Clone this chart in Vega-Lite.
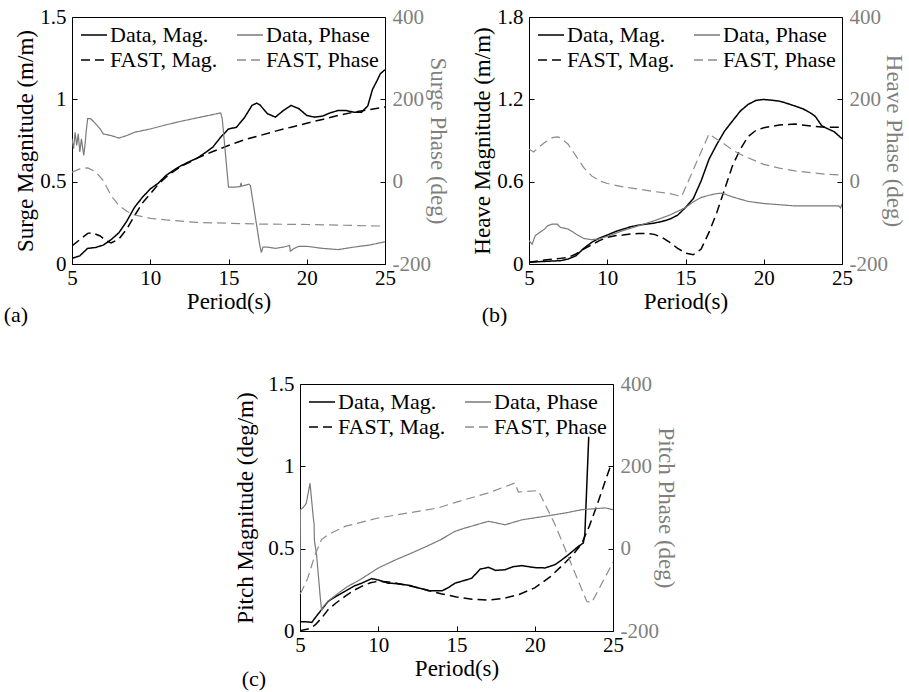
{
  "$schema": "https://vega.github.io/schema/vega-lite/v6.json",
  "background": "white",
  "padding": {"left": 3, "top": 5, "right": 0, "bottom": 0},
  "config": {
    "font": "Liberation Serif, Times New Roman, serif",
    "view": {"stroke": "#000", "strokeWidth": 1},
    "axis": {"grid": false, "domain": false, "tickSize": -5, "tickColor": "#000", "labelFlush": false, "labelPadding": 11, "labelFontSize": 21, "titleFontSize": 23, "titleFontWeight": "normal", "labelColor": "#000", "titleColor": "#000", "labelFont": "Liberation Serif, Times New Roman, serif", "titleFont": "Liberation Serif, Times New Roman, serif", "titlePadding": 2},
    "axisX": {"labelPadding": 8, "titlePadding": 2},
    "legend": {"labelFontSize": 22, "labelFont": "Liberation Serif, Times New Roman, serif", "labelColor": "#000", "symbolType": "stroke", "symbolSize": 676, "symbolStrokeWidth": 1.5, "labelOffset": 2, "columns": 2, "direction": "horizontal", "columnPadding": 16, "rowPadding": -2, "orient": "none", "legendX": 8, "legendY": 4, "padding": 0, "labelLimit": 300},
    "title": {"font": "Liberation Serif, Times New Roman, serif", "fontSize": 22, "fontWeight": "normal", "color": "#000"}
  },
  "datasets": {
    "a": [
      {"s": "Data, Mag.", "t": 5, "v": 0.034}, {"s": "Data, Mag.", "t": 5.5, "v": 0.05}, {"s": "Data, Mag.", "t": 6, "v": 0.095}, {"s": "Data, Mag.", "t": 6.5, "v": 0.1}, {"s": "Data, Mag.", "t": 7, "v": 0.115}, {"s": "Data, Mag.", "t": 7.5, "v": 0.148}, {"s": "Data, Mag.", "t": 8, "v": 0.19}, {"s": "Data, Mag.", "t": 8.5, "v": 0.26}, {"s": "Data, Mag.", "t": 9, "v": 0.345}, {"s": "Data, Mag.", "t": 9.5, "v": 0.405}, {"s": "Data, Mag.", "t": 10, "v": 0.456}, {"s": "Data, Mag.", "t": 10.5, "v": 0.49}, {"s": "Data, Mag.", "t": 11, "v": 0.537}, {"s": "Data, Mag.", "t": 11.5, "v": 0.57}, {"s": "Data, Mag.", "t": 12, "v": 0.598}, {"s": "Data, Mag.", "t": 12.5, "v": 0.622}, {"s": "Data, Mag.", "t": 13, "v": 0.643}, {"s": "Data, Mag.", "t": 13.5, "v": 0.675}, {"s": "Data, Mag.", "t": 14, "v": 0.71}, {"s": "Data, Mag.", "t": 14.5, "v": 0.77}, {"s": "Data, Mag.", "t": 15, "v": 0.82}, {"s": "Data, Mag.", "t": 15.5, "v": 0.83}, {"s": "Data, Mag.", "t": 16, "v": 0.886}, {"s": "Data, Mag.", "t": 16.5, "v": 0.963}, {"s": "Data, Mag.", "t": 16.8, "v": 0.977}, {"s": "Data, Mag.", "t": 17, "v": 0.967}, {"s": "Data, Mag.", "t": 17.5, "v": 0.912}, {"s": "Data, Mag.", "t": 18, "v": 0.892}, {"s": "Data, Mag.", "t": 18.5, "v": 0.932}, {"s": "Data, Mag.", "t": 19, "v": 0.963}, {"s": "Data, Mag.", "t": 19.5, "v": 0.943}, {"s": "Data, Mag.", "t": 20, "v": 0.902}, {"s": "Data, Mag.", "t": 20.5, "v": 0.892}, {"s": "Data, Mag.", "t": 21, "v": 0.898}, {"s": "Data, Mag.", "t": 21.5, "v": 0.918}, {"s": "Data, Mag.", "t": 22, "v": 0.932}, {"s": "Data, Mag.", "t": 22.5, "v": 0.932}, {"s": "Data, Mag.", "t": 23, "v": 0.922}, {"s": "Data, Mag.", "t": 23.5, "v": 0.922}, {"s": "Data, Mag.", "t": 23.9, "v": 0.96}, {"s": "Data, Mag.", "t": 24.2, "v": 1.06}, {"s": "Data, Mag.", "t": 24.5, "v": 1.115}, {"s": "Data, Mag.", "t": 24.7, "v": 1.155}, {"s": "Data, Mag.", "t": 25, "v": 1.18},
      {"s": "FAST, Mag.", "t": 5, "v": 0.11}, {"s": "FAST, Mag.", "t": 5.5, "v": 0.148}, {"s": "FAST, Mag.", "t": 6, "v": 0.186}, {"s": "FAST, Mag.", "t": 6.3, "v": 0.19}, {"s": "FAST, Mag.", "t": 6.8, "v": 0.17}, {"s": "FAST, Mag.", "t": 7.2, "v": 0.14}, {"s": "FAST, Mag.", "t": 7.5, "v": 0.128}, {"s": "FAST, Mag.", "t": 8, "v": 0.152}, {"s": "FAST, Mag.", "t": 8.5, "v": 0.213}, {"s": "FAST, Mag.", "t": 9, "v": 0.294}, {"s": "FAST, Mag.", "t": 9.5, "v": 0.371}, {"s": "FAST, Mag.", "t": 10, "v": 0.426}, {"s": "FAST, Mag.", "t": 10.5, "v": 0.482}, {"s": "FAST, Mag.", "t": 11, "v": 0.527}, {"s": "FAST, Mag.", "t": 11.5, "v": 0.563}, {"s": "FAST, Mag.", "t": 12, "v": 0.594}, {"s": "FAST, Mag.", "t": 12.5, "v": 0.618}, {"s": "FAST, Mag.", "t": 13, "v": 0.643}, {"s": "FAST, Mag.", "t": 14, "v": 0.683}, {"s": "FAST, Mag.", "t": 15, "v": 0.72}, {"s": "FAST, Mag.", "t": 16, "v": 0.754}, {"s": "FAST, Mag.", "t": 17, "v": 0.78}, {"s": "FAST, Mag.", "t": 18, "v": 0.807}, {"s": "FAST, Mag.", "t": 19, "v": 0.831}, {"s": "FAST, Mag.", "t": 20, "v": 0.855}, {"s": "FAST, Mag.", "t": 21, "v": 0.878}, {"s": "FAST, Mag.", "t": 22, "v": 0.902}, {"s": "FAST, Mag.", "t": 23, "v": 0.922}, {"s": "FAST, Mag.", "t": 24, "v": 0.937}, {"s": "FAST, Mag.", "t": 25, "v": 0.953},
      {"s": "Data, Phase", "t": 5, "v": 104}, {"s": "Data, Phase", "t": 5.1, "v": 80}, {"s": "Data, Phase", "t": 5.2, "v": 120}, {"s": "Data, Phase", "t": 5.3, "v": 88}, {"s": "Data, Phase", "t": 5.4, "v": 116}, {"s": "Data, Phase", "t": 5.5, "v": 72}, {"s": "Data, Phase", "t": 5.6, "v": 104}, {"s": "Data, Phase", "t": 5.75, "v": 64}, {"s": "Data, Phase", "t": 5.85, "v": 96}, {"s": "Data, Phase", "t": 5.9, "v": 120}, {"s": "Data, Phase", "t": 6, "v": 153}, {"s": "Data, Phase", "t": 6.2, "v": 153}, {"s": "Data, Phase", "t": 6.5, "v": 141}, {"s": "Data, Phase", "t": 6.8, "v": 128}, {"s": "Data, Phase", "t": 7, "v": 116}, {"s": "Data, Phase", "t": 7.5, "v": 112}, {"s": "Data, Phase", "t": 8, "v": 106}, {"s": "Data, Phase", "t": 8.5, "v": 112}, {"s": "Data, Phase", "t": 9, "v": 120}, {"s": "Data, Phase", "t": 10, "v": 128}, {"s": "Data, Phase", "t": 11, "v": 138}, {"s": "Data, Phase", "t": 12, "v": 147}, {"s": "Data, Phase", "t": 13, "v": 155}, {"s": "Data, Phase", "t": 14, "v": 163}, {"s": "Data, Phase", "t": 14.5, "v": 167}, {"s": "Data, Phase", "t": 14.6, "v": 153}, {"s": "Data, Phase", "t": 15, "v": -13.5}, {"s": "Data, Phase", "t": 15.3, "v": -13.5}, {"s": "Data, Phase", "t": 15.75, "v": -12}, {"s": "Data, Phase", "t": 15.8, "v": -3}, {"s": "Data, Phase", "t": 15.85, "v": -11}, {"s": "Data, Phase", "t": 16.3, "v": -6}, {"s": "Data, Phase", "t": 16.4, "v": -9.5}, {"s": "Data, Phase", "t": 17, "v": -155}, {"s": "Data, Phase", "t": 17.1, "v": -172}, {"s": "Data, Phase", "t": 17.2, "v": -159}, {"s": "Data, Phase", "t": 17.5, "v": -159}, {"s": "Data, Phase", "t": 18, "v": -162}, {"s": "Data, Phase", "t": 18.5, "v": -159}, {"s": "Data, Phase", "t": 18.9, "v": -155}, {"s": "Data, Phase", "t": 18.95, "v": -169}, {"s": "Data, Phase", "t": 19.2, "v": -162}, {"s": "Data, Phase", "t": 19.5, "v": -157}, {"s": "Data, Phase", "t": 20, "v": -157}, {"s": "Data, Phase", "t": 21, "v": -162}, {"s": "Data, Phase", "t": 22, "v": -165}, {"s": "Data, Phase", "t": 23, "v": -159}, {"s": "Data, Phase", "t": 24, "v": -154}, {"s": "Data, Phase", "t": 25, "v": -146},
      {"s": "FAST, Phase", "t": 5, "v": 23}, {"s": "FAST, Phase", "t": 5.5, "v": 31}, {"s": "FAST, Phase", "t": 6, "v": 33.5}, {"s": "FAST, Phase", "t": 6.5, "v": 24.6}, {"s": "FAST, Phase", "t": 7, "v": 2.7}, {"s": "FAST, Phase", "t": 7.5, "v": -34}, {"s": "FAST, Phase", "t": 8, "v": -58}, {"s": "FAST, Phase", "t": 8.5, "v": -72}, {"s": "FAST, Phase", "t": 9, "v": -81}, {"s": "FAST, Phase", "t": 10, "v": -89}, {"s": "FAST, Phase", "t": 11, "v": -93}, {"s": "FAST, Phase", "t": 12, "v": -96}, {"s": "FAST, Phase", "t": 13, "v": -99}, {"s": "FAST, Phase", "t": 15, "v": -101}, {"s": "FAST, Phase", "t": 17, "v": -103}, {"s": "FAST, Phase", "t": 20, "v": -104}, {"s": "FAST, Phase", "t": 25, "v": -108}
    ],
    "b": [
      {"s": "Data, Mag.", "t": 5, "v": 0.012}, {"s": "Data, Mag.", "t": 6, "v": 0.019}, {"s": "Data, Mag.", "t": 7, "v": 0.024}, {"s": "Data, Mag.", "t": 7.5, "v": 0.036}, {"s": "Data, Mag.", "t": 8, "v": 0.06}, {"s": "Data, Mag.", "t": 8.5, "v": 0.114}, {"s": "Data, Mag.", "t": 9, "v": 0.157}, {"s": "Data, Mag.", "t": 9.5, "v": 0.189}, {"s": "Data, Mag.", "t": 10, "v": 0.211}, {"s": "Data, Mag.", "t": 10.5, "v": 0.235}, {"s": "Data, Mag.", "t": 11, "v": 0.254}, {"s": "Data, Mag.", "t": 11.5, "v": 0.271}, {"s": "Data, Mag.", "t": 12, "v": 0.283}, {"s": "Data, Mag.", "t": 12.5, "v": 0.291}, {"s": "Data, Mag.", "t": 13, "v": 0.298}, {"s": "Data, Mag.", "t": 13.5, "v": 0.31}, {"s": "Data, Mag.", "t": 14, "v": 0.327}, {"s": "Data, Mag.", "t": 14.5, "v": 0.356}, {"s": "Data, Mag.", "t": 15, "v": 0.412}, {"s": "Data, Mag.", "t": 15.5, "v": 0.477}, {"s": "Data, Mag.", "t": 16, "v": 0.606}, {"s": "Data, Mag.", "t": 16.5, "v": 0.763}, {"s": "Data, Mag.", "t": 17, "v": 0.872}, {"s": "Data, Mag.", "t": 17.5, "v": 0.969}, {"s": "Data, Mag.", "t": 18, "v": 1.042}, {"s": "Data, Mag.", "t": 18.5, "v": 1.114}, {"s": "Data, Mag.", "t": 19, "v": 1.163}, {"s": "Data, Mag.", "t": 19.5, "v": 1.192}, {"s": "Data, Mag.", "t": 20, "v": 1.199}, {"s": "Data, Mag.", "t": 20.5, "v": 1.194}, {"s": "Data, Mag.", "t": 21, "v": 1.187}, {"s": "Data, Mag.", "t": 21.5, "v": 1.17}, {"s": "Data, Mag.", "t": 22, "v": 1.151}, {"s": "Data, Mag.", "t": 22.5, "v": 1.131}, {"s": "Data, Mag.", "t": 23, "v": 1.1}, {"s": "Data, Mag.", "t": 23.3, "v": 1.075}, {"s": "Data, Mag.", "t": 23.7, "v": 1.008}, {"s": "Data, Mag.", "t": 24, "v": 0.99}, {"s": "Data, Mag.", "t": 24.5, "v": 0.964}, {"s": "Data, Mag.", "t": 25, "v": 0.913},
      {"s": "FAST, Mag.", "t": 5, "v": 0.012}, {"s": "FAST, Mag.", "t": 6, "v": 0.029}, {"s": "FAST, Mag.", "t": 7, "v": 0.041}, {"s": "FAST, Mag.", "t": 7.5, "v": 0.048}, {"s": "FAST, Mag.", "t": 8, "v": 0.073}, {"s": "FAST, Mag.", "t": 8.5, "v": 0.109}, {"s": "FAST, Mag.", "t": 9, "v": 0.14}, {"s": "FAST, Mag.", "t": 9.5, "v": 0.17}, {"s": "FAST, Mag.", "t": 10, "v": 0.194}, {"s": "FAST, Mag.", "t": 10.5, "v": 0.206}, {"s": "FAST, Mag.", "t": 11, "v": 0.211}, {"s": "FAST, Mag.", "t": 11.5, "v": 0.218}, {"s": "FAST, Mag.", "t": 12, "v": 0.223}, {"s": "FAST, Mag.", "t": 12.5, "v": 0.223}, {"s": "FAST, Mag.", "t": 13, "v": 0.216}, {"s": "FAST, Mag.", "t": 13.5, "v": 0.194}, {"s": "FAST, Mag.", "t": 14, "v": 0.157}, {"s": "FAST, Mag.", "t": 14.5, "v": 0.114}, {"s": "FAST, Mag.", "t": 15, "v": 0.08}, {"s": "FAST, Mag.", "t": 15.5, "v": 0.068}, {"s": "FAST, Mag.", "t": 16, "v": 0.109}, {"s": "FAST, Mag.", "t": 16.5, "v": 0.23}, {"s": "FAST, Mag.", "t": 17, "v": 0.375}, {"s": "FAST, Mag.", "t": 17.5, "v": 0.545}, {"s": "FAST, Mag.", "t": 18, "v": 0.715}, {"s": "FAST, Mag.", "t": 18.5, "v": 0.836}, {"s": "FAST, Mag.", "t": 19, "v": 0.928}, {"s": "FAST, Mag.", "t": 19.5, "v": 0.974}, {"s": "FAST, Mag.", "t": 20, "v": 0.993}, {"s": "FAST, Mag.", "t": 21, "v": 1.013}, {"s": "FAST, Mag.", "t": 22, "v": 1.02}, {"s": "FAST, Mag.", "t": 23, "v": 1.005}, {"s": "FAST, Mag.", "t": 24, "v": 0.996}, {"s": "FAST, Mag.", "t": 25, "v": 0.996},
      {"s": "Data, Phase", "t": 5, "v": -143}, {"s": "Data, Phase", "t": 5.2, "v": -152}, {"s": "Data, Phase", "t": 5.4, "v": -131}, {"s": "Data, Phase", "t": 5.7, "v": -123}, {"s": "Data, Phase", "t": 6, "v": -115}, {"s": "Data, Phase", "t": 6.2, "v": -107}, {"s": "Data, Phase", "t": 6.5, "v": -103}, {"s": "Data, Phase", "t": 6.8, "v": -103}, {"s": "Data, Phase", "t": 7, "v": -111}, {"s": "Data, Phase", "t": 7.5, "v": -115}, {"s": "Data, Phase", "t": 8, "v": -127}, {"s": "Data, Phase", "t": 8.5, "v": -138}, {"s": "Data, Phase", "t": 9, "v": -141}, {"s": "Data, Phase", "t": 9.5, "v": -139}, {"s": "Data, Phase", "t": 10, "v": -133}, {"s": "Data, Phase", "t": 11, "v": -119}, {"s": "Data, Phase", "t": 12, "v": -107}, {"s": "Data, Phase", "t": 13, "v": -95}, {"s": "Data, Phase", "t": 14, "v": -81}, {"s": "Data, Phase", "t": 15, "v": -63}, {"s": "Data, Phase", "t": 15.5, "v": -49}, {"s": "Data, Phase", "t": 16, "v": -38.5}, {"s": "Data, Phase", "t": 16.5, "v": -33}, {"s": "Data, Phase", "t": 17, "v": -29}, {"s": "Data, Phase", "t": 17.3, "v": -28}, {"s": "Data, Phase", "t": 17.5, "v": -30}, {"s": "Data, Phase", "t": 18, "v": -37}, {"s": "Data, Phase", "t": 18.5, "v": -42.5}, {"s": "Data, Phase", "t": 19, "v": -48}, {"s": "Data, Phase", "t": 20, "v": -53}, {"s": "Data, Phase", "t": 21, "v": -56}, {"s": "Data, Phase", "t": 22, "v": -59}, {"s": "Data, Phase", "t": 23, "v": -59}, {"s": "Data, Phase", "t": 24, "v": -59}, {"s": "Data, Phase", "t": 24.8, "v": -59}, {"s": "Data, Phase", "t": 24.9, "v": -64}, {"s": "Data, Phase", "t": 25, "v": -55},
      {"s": "FAST, Phase", "t": 5, "v": 79}, {"s": "FAST, Phase", "t": 5.3, "v": 72}, {"s": "FAST, Phase", "t": 5.6, "v": 83}, {"s": "FAST, Phase", "t": 6, "v": 95}, {"s": "FAST, Phase", "t": 6.5, "v": 107}, {"s": "FAST, Phase", "t": 6.8, "v": 109}, {"s": "FAST, Phase", "t": 7, "v": 107}, {"s": "FAST, Phase", "t": 7.5, "v": 91}, {"s": "FAST, Phase", "t": 8, "v": 62.5}, {"s": "FAST, Phase", "t": 8.5, "v": 34}, {"s": "FAST, Phase", "t": 9, "v": 14}, {"s": "FAST, Phase", "t": 9.5, "v": 2}, {"s": "FAST, Phase", "t": 10, "v": -4.5}, {"s": "FAST, Phase", "t": 11, "v": -12.6}, {"s": "FAST, Phase", "t": 12, "v": -18}, {"s": "FAST, Phase", "t": 13, "v": -24}, {"s": "FAST, Phase", "t": 14, "v": -29}, {"s": "FAST, Phase", "t": 14.75, "v": -36}, {"s": "FAST, Phase", "t": 16.5, "v": 116}, {"s": "FAST, Phase", "t": 17, "v": 103}, {"s": "FAST, Phase", "t": 17.5, "v": 91}, {"s": "FAST, Phase", "t": 18, "v": 77}, {"s": "FAST, Phase", "t": 18.5, "v": 66.5}, {"s": "FAST, Phase", "t": 19, "v": 58}, {"s": "FAST, Phase", "t": 20, "v": 42}, {"s": "FAST, Phase", "t": 21, "v": 33}, {"s": "FAST, Phase", "t": 22, "v": 26}, {"s": "FAST, Phase", "t": 23, "v": 22}, {"s": "FAST, Phase", "t": 24, "v": 18}, {"s": "FAST, Phase", "t": 25, "v": 16}
    ],
    "c": [
      {"s": "Data, Mag.", "t": 5, "v": 0.057}, {"s": "Data, Mag.", "t": 5.5, "v": 0.055}, {"s": "Data, Mag.", "t": 5.75, "v": 0.052}, {"s": "Data, Mag.", "t": 5.96, "v": 0.079}, {"s": "Data, Mag.", "t": 6.38, "v": 0.13}, {"s": "Data, Mag.", "t": 6.8, "v": 0.18}, {"s": "Data, Mag.", "t": 7.2, "v": 0.205}, {"s": "Data, Mag.", "t": 7.87, "v": 0.241}, {"s": "Data, Mag.", "t": 8.5, "v": 0.275}, {"s": "Data, Mag.", "t": 8.94, "v": 0.29}, {"s": "Data, Mag.", "t": 9.57, "v": 0.318}, {"s": "Data, Mag.", "t": 10, "v": 0.31}, {"s": "Data, Mag.", "t": 10.64, "v": 0.29}, {"s": "Data, Mag.", "t": 11, "v": 0.289}, {"s": "Data, Mag.", "t": 12, "v": 0.277}, {"s": "Data, Mag.", "t": 13.2, "v": 0.245}, {"s": "Data, Mag.", "t": 14.1, "v": 0.245}, {"s": "Data, Mag.", "t": 14.5, "v": 0.265}, {"s": "Data, Mag.", "t": 14.9, "v": 0.29}, {"s": "Data, Mag.", "t": 15.5, "v": 0.307}, {"s": "Data, Mag.", "t": 15.97, "v": 0.32}, {"s": "Data, Mag.", "t": 16.5, "v": 0.375}, {"s": "Data, Mag.", "t": 17.03, "v": 0.387}, {"s": "Data, Mag.", "t": 17.5, "v": 0.368}, {"s": "Data, Mag.", "t": 18.1, "v": 0.372}, {"s": "Data, Mag.", "t": 18.6, "v": 0.39}, {"s": "Data, Mag.", "t": 19.17, "v": 0.397}, {"s": "Data, Mag.", "t": 20, "v": 0.385}, {"s": "Data, Mag.", "t": 20.66, "v": 0.383}, {"s": "Data, Mag.", "t": 21.3, "v": 0.403}, {"s": "Data, Mag.", "t": 21.7, "v": 0.43}, {"s": "Data, Mag.", "t": 22.15, "v": 0.463}, {"s": "Data, Mag.", "t": 22.79, "v": 0.514}, {"s": "Data, Mag.", "t": 23.1, "v": 0.534}, {"s": "Data, Mag.", "t": 23.2, "v": 0.585}, {"s": "Data, Mag.", "t": 23.45, "v": 1.18},
      {"s": "FAST, Mag.", "t": 5, "v": 0.002}, {"s": "FAST, Mag.", "t": 5.5, "v": 0.012}, {"s": "FAST, Mag.", "t": 5.75, "v": 0.022}, {"s": "FAST, Mag.", "t": 6, "v": 0.04}, {"s": "FAST, Mag.", "t": 6.38, "v": 0.079}, {"s": "FAST, Mag.", "t": 6.8, "v": 0.13}, {"s": "FAST, Mag.", "t": 7.3, "v": 0.17}, {"s": "FAST, Mag.", "t": 7.87, "v": 0.21}, {"s": "FAST, Mag.", "t": 8.5, "v": 0.25}, {"s": "FAST, Mag.", "t": 8.94, "v": 0.271}, {"s": "FAST, Mag.", "t": 9.5, "v": 0.293}, {"s": "FAST, Mag.", "t": 10, "v": 0.302}, {"s": "FAST, Mag.", "t": 10.5, "v": 0.299}, {"s": "FAST, Mag.", "t": 11, "v": 0.293}, {"s": "FAST, Mag.", "t": 12.13, "v": 0.271}, {"s": "FAST, Mag.", "t": 13, "v": 0.252}, {"s": "FAST, Mag.", "t": 14, "v": 0.226}, {"s": "FAST, Mag.", "t": 15, "v": 0.207}, {"s": "FAST, Mag.", "t": 16, "v": 0.193}, {"s": "FAST, Mag.", "t": 17, "v": 0.188}, {"s": "FAST, Mag.", "t": 18, "v": 0.198}, {"s": "FAST, Mag.", "t": 19, "v": 0.222}, {"s": "FAST, Mag.", "t": 20, "v": 0.262}, {"s": "FAST, Mag.", "t": 21, "v": 0.33}, {"s": "FAST, Mag.", "t": 22, "v": 0.42}, {"s": "FAST, Mag.", "t": 22.5, "v": 0.47}, {"s": "FAST, Mag.", "t": 23, "v": 0.53}, {"s": "FAST, Mag.", "t": 23.5, "v": 0.64}, {"s": "FAST, Mag.", "t": 24, "v": 0.77}, {"s": "FAST, Mag.", "t": 24.5, "v": 0.91}, {"s": "FAST, Mag.", "t": 24.8, "v": 0.99}, {"s": "FAST, Mag.", "t": 25, "v": 1.01},
      {"s": "Data, Phase", "t": 5, "v": -103}, {"s": "Data, Phase", "t": 5.03, "v": 95}, {"s": "Data, Phase", "t": 5.2, "v": 100}, {"s": "Data, Phase", "t": 5.4, "v": 110}, {"s": "Data, Phase", "t": 5.64, "v": 159}, {"s": "Data, Phase", "t": 5.85, "v": 75}, {"s": "Data, Phase", "t": 5.9, "v": 60}, {"s": "Data, Phase", "t": 5.92, "v": 20}, {"s": "Data, Phase", "t": 6.06, "v": -15}, {"s": "Data, Phase", "t": 6.28, "v": -112}, {"s": "Data, Phase", "t": 6.38, "v": -151}, {"s": "Data, Phase", "t": 6.5, "v": -140}, {"s": "Data, Phase", "t": 6.81, "v": -127}, {"s": "Data, Phase", "t": 7.45, "v": -108}, {"s": "Data, Phase", "t": 8, "v": -93}, {"s": "Data, Phase", "t": 8.94, "v": -73}, {"s": "Data, Phase", "t": 10, "v": -47}, {"s": "Data, Phase", "t": 11, "v": -29}, {"s": "Data, Phase", "t": 12.13, "v": -10.5}, {"s": "Data, Phase", "t": 13, "v": 4}, {"s": "Data, Phase", "t": 14, "v": 22}, {"s": "Data, Phase", "t": 14.9, "v": 42}, {"s": "Data, Phase", "t": 15.53, "v": 50}, {"s": "Data, Phase", "t": 16, "v": 55}, {"s": "Data, Phase", "t": 17.03, "v": 66.5}, {"s": "Data, Phase", "t": 17.5, "v": 63}, {"s": "Data, Phase", "t": 18.1, "v": 58}, {"s": "Data, Phase", "t": 19.17, "v": 70}, {"s": "Data, Phase", "t": 20.87, "v": 80}, {"s": "Data, Phase", "t": 22, "v": 87}, {"s": "Data, Phase", "t": 23, "v": 94.7}, {"s": "Data, Phase", "t": 24.5, "v": 99}, {"s": "Data, Phase", "t": 25, "v": 94.7},
      {"s": "FAST, Phase", "t": 5, "v": -110}, {"s": "FAST, Phase", "t": 5.1, "v": -104}, {"s": "FAST, Phase", "t": 5.5, "v": -71}, {"s": "FAST, Phase", "t": 5.96, "v": -15}, {"s": "FAST, Phase", "t": 6.38, "v": 22}, {"s": "FAST, Phase", "t": 6.8, "v": 34}, {"s": "FAST, Phase", "t": 7.87, "v": 54}, {"s": "FAST, Phase", "t": 10, "v": 74.5}, {"s": "FAST, Phase", "t": 12.13, "v": 88}, {"s": "FAST, Phase", "t": 13.83, "v": 99}, {"s": "FAST, Phase", "t": 14.9, "v": 112}, {"s": "FAST, Phase", "t": 15.53, "v": 119}, {"s": "FAST, Phase", "t": 17, "v": 135}, {"s": "FAST, Phase", "t": 18.74, "v": 159.5}, {"s": "FAST, Phase", "t": 18.95, "v": 137.6}, {"s": "FAST, Phase", "t": 20.23, "v": 141}, {"s": "FAST, Phase", "t": 21.3, "v": 58}, {"s": "FAST, Phase", "t": 23.32, "v": -128}, {"s": "FAST, Phase", "t": 23.64, "v": -131}, {"s": "FAST, Phase", "t": 24.92, "v": -39}, {"s": "FAST, Phase", "t": 25, "v": -33}
    ]
  },
  "vconcat": [
    {
      "hconcat": [
        {
          "width": 313, "height": 247,
          "data": {"name": "a"},
          "title": {"text": "(a)", "orient": "bottom", "anchor": "start", "frame": "bounds", "offset": -8, "dx": -11},
          "layer": [
            {
              "transform": [{"filter": {"field": "s", "oneOf": ["Data, Mag.", "FAST, Mag."]}}],
              "mark": {"type": "line", "strokeWidth": 1.5, "clip": true},
              "encoding": {
                "x": {"field": "t", "type": "quantitative", "scale": {"domain": [5, 25], "nice": false, "zero": false}, "axis": {"title": "Period(s)", "values": [5, 10, 15, 20, 25]}},
                "y": {"field": "v", "type": "quantitative", "scale": {"domain": [0, 1.5], "nice": false}, "axis": {"title": "Surge Magnitude (m/m)", "values": [0, 0.5, 1, 1.5], "format": "~g"}},
                "color": {"field": "s", "type": "nominal", "scale": {"domain": ["Data, Mag.", "Data, Phase", "FAST, Mag.", "FAST, Phase"], "range": ["#000000", "#7a7a7a", "#000000", "#8c8c8c"]}, "legend": {"title": null}},
                "strokeDash": {"field": "s", "type": "nominal", "scale": {"domain": ["Data, Mag.", "Data, Phase", "FAST, Mag.", "FAST, Phase"], "range": [[1, 0], [1, 0], [9, 5], [9, 5]]}, "legend": {"title": null}}
              }
            },
            {
              "transform": [{"filter": {"field": "s", "oneOf": ["Data, Phase", "FAST, Phase"]}}],
              "mark": {"type": "line", "strokeWidth": 1.2, "clip": true},
              "encoding": {
                "x": {"field": "t", "type": "quantitative"},
                "y": {"field": "v", "type": "quantitative", "scale": {"domain": [-200, 400], "nice": false, "zero": false}, "axis": {"orient": "right", "title": "Surge Phase (deg)", "values": [-200, 0, 200, 400], "labelExpr": "replace(datum.label, '\u2212', '-')", "labelColor": "#7f7f7f", "titleColor": "#7f7f7f", "labelPadding": 12, "titlePadding": -5}},
                "color": {"field": "s", "type": "nominal", "legend": {"title": null}},
                "strokeDash": {"field": "s", "type": "nominal", "legend": {"title": null}}
              }
            }
          ],
          "resolve": {"scale": {"y": "independent"}}
        },
        {
          "width": 313, "height": 247,
          "data": {"name": "b"},
          "title": {"text": "(b)", "orient": "bottom", "anchor": "start", "frame": "bounds", "offset": -8, "dx": 10},
          "layer": [
            {
              "transform": [{"filter": {"field": "s", "oneOf": ["Data, Mag.", "FAST, Mag."]}}],
              "mark": {"type": "line", "strokeWidth": 1.5, "clip": true},
              "encoding": {
                "x": {"field": "t", "type": "quantitative", "scale": {"domain": [5, 25], "nice": false, "zero": false}, "axis": {"title": "Period(s)", "values": [5, 10, 15, 20, 25]}},
                "y": {"field": "v", "type": "quantitative", "scale": {"domain": [0, 1.8], "nice": false}, "axis": {"title": "Heave Magnitude (m/m)", "values": [0, 0.6, 1.2, 1.8], "format": "~g"}},
                "color": {"field": "s", "type": "nominal", "scale": {"domain": ["Data, Mag.", "Data, Phase", "FAST, Mag.", "FAST, Phase"], "range": ["#000000", "#7a7a7a", "#000000", "#8c8c8c"]}, "legend": {"title": null}},
                "strokeDash": {"field": "s", "type": "nominal", "scale": {"domain": ["Data, Mag.", "Data, Phase", "FAST, Mag.", "FAST, Phase"], "range": [[1, 0], [1, 0], [9, 5], [9, 5]]}, "legend": {"title": null}}
              }
            },
            {
              "transform": [{"filter": {"field": "s", "oneOf": ["Data, Phase", "FAST, Phase"]}}],
              "mark": {"type": "line", "strokeWidth": 1.2, "clip": true},
              "encoding": {
                "x": {"field": "t", "type": "quantitative"},
                "y": {"field": "v", "type": "quantitative", "scale": {"domain": [-200, 400], "nice": false, "zero": false}, "axis": {"orient": "right", "title": "Heave Phase (deg)", "values": [-200, 0, 200, 400], "labelExpr": "replace(datum.label, '\u2212', '-')", "labelColor": "#7f7f7f", "titleColor": "#7f7f7f", "labelPadding": 12, "titlePadding": -6}},
                "color": {"field": "s", "type": "nominal", "legend": {"title": null}},
                "strokeDash": {"field": "s", "type": "nominal", "legend": {"title": null}}
              }
            }
          ],
          "resolve": {"scale": {"y": "independent"}}
        }
      ],
      "spacing": 22,
      "resolve": {"scale": {"color": "independent", "strokeDash": "independent"}}
    },
    {
      "width": 313, "height": 247,
      "data": {"name": "c"},
      "title": {"text": "(c)", "orient": "bottom", "anchor": "start", "frame": "bounds", "offset": -11, "dx": 7},
      "layer": [
        {
          "transform": [{"filter": {"field": "s", "oneOf": ["Data, Mag.", "FAST, Mag."]}}],
          "mark": {"type": "line", "strokeWidth": 1.5, "clip": true},
          "encoding": {
            "x": {"field": "t", "type": "quantitative", "scale": {"domain": [5, 25], "nice": false, "zero": false}, "axis": {"title": "Period(s)", "values": [5, 10, 15, 20, 25]}},
            "y": {"field": "v", "type": "quantitative", "scale": {"domain": [0, 1.5], "nice": false}, "axis": {"title": "Pitch Magnitude (deg/m)", "values": [0, 0.5, 1, 1.5], "format": "~g", "titlePadding": 10}},
            "color": {"field": "s", "type": "nominal", "scale": {"domain": ["Data, Mag.", "Data, Phase", "FAST, Mag.", "FAST, Phase"], "range": ["#000000", "#7a7a7a", "#000000", "#8c8c8c"]}, "legend": {"title": null}},
            "strokeDash": {"field": "s", "type": "nominal", "scale": {"domain": ["Data, Mag.", "Data, Phase", "FAST, Mag.", "FAST, Phase"], "range": [[1, 0], [1, 0], [9, 5], [9, 5]]}, "legend": {"title": null}}
          }
        },
        {
          "transform": [{"filter": {"field": "s", "oneOf": ["Data, Phase", "FAST, Phase"]}}],
          "mark": {"type": "line", "strokeWidth": 1.2, "clip": true},
          "encoding": {
            "x": {"field": "t", "type": "quantitative"},
            "y": {"field": "v", "type": "quantitative", "scale": {"domain": [-200, 400], "nice": false, "zero": false}, "axis": {"orient": "right", "title": "Pitch Phase (deg)", "values": [-200, 0, 200, 400], "labelExpr": "replace(datum.label, '\u2212', '-')", "labelColor": "#7f7f7f", "titleColor": "#7f7f7f", "labelPadding": 12, "titlePadding": -5}},
            "color": {"field": "s", "type": "nominal", "legend": {"title": null}},
            "strokeDash": {"field": "s", "type": "nominal", "legend": {"title": null}}
          }
        }
      ],
      "resolve": {"scale": {"y": "independent"}}
    }
  ],
  "spacing": 45,
  "center": true,
  "resolve": {"scale": {"color": "independent", "strokeDash": "independent"}}
}
